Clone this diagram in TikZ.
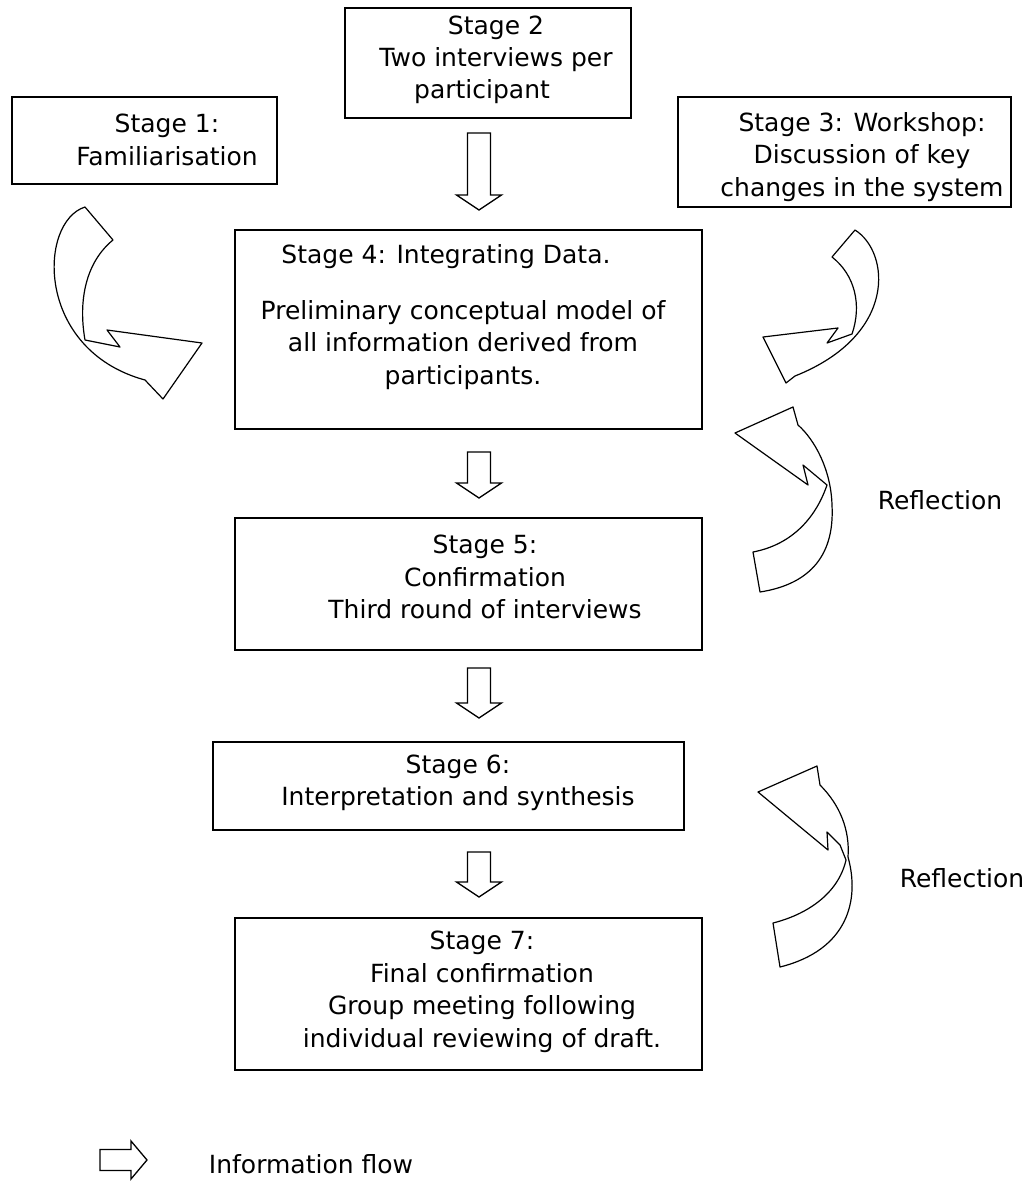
\documentclass[tikz,border=0pt]{standalone}
\usepackage{fontspec}
\setmainfont{DejaVu Sans}
\newcommand\flowdown[3]{\draw[blk] (#1-11.5,#2) -- (#1+11.5,#2) -- (#1+11.5,#3-15) -- (#1+22.5,#3-15) -- (#1,#3) -- (#1-22.5,#3-15) -- (#1-11.5,#3-15) -- cycle;}
\begin{document}
\begin{tikzpicture}[x=1pt,y=-1pt,
 box/.style={draw=black, line width=1.6pt, inner sep=0pt},
 txt/.style={align=center, inner sep=0pt, font=\fontsize{25}{32.5}\selectfont},
 blk/.style={draw=black, line width=1.3pt, line join=miter},
 curv/.style={draw=black, line width=1.2pt, line join=round}]
\useasboundingbox (0,0) rectangle (1031,1183);
% boxes
\node[box, minimum width=265pt, minimum height=87pt] (s1) at (144.5,140.5) {};
\node[box, minimum width=286pt, minimum height=110pt] (s2) at (488,63) {};
\node[box, minimum width=333pt, minimum height=110pt] (s3) at (844.5,152) {};
\node[box, minimum width=467pt, minimum height=199pt] (s4) at (468.5,329.5) {};
\node[box, minimum width=467pt, minimum height=132pt] (s5) at (468.5,584) {};
\node[box, minimum width=471pt, minimum height=88pt] (s6) at (448.5,786) {};
\node[box, minimum width=467pt, minimum height=152pt] (s7) at (468.5,994) {};
% texts
\node[txt] (t1) at (167,140) {Stage 1:\\Familiarisation};
\node[txt] (t2) at (496,44) {Stage 2\\Two interviews per};
\node[txt] (t2b) at (482,92) {participant};
\node[txt] (t3) at (862,157) {Stage 3: Workshop:\\Discussion of key\\changes in the system};
\node[txt] (t4a) at (446,257) {Stage 4: Integrating Data.};
\node[txt] (t4b) at (463,345) {Preliminary conceptual model of\\all information derived from\\participants.};
\node[txt] (t5) at (485,577) {Stage 5:\\Confirmation\\Third round of interviews};
\node[txt] (t6) at (458,783) {Stage 6:\\Interpretation and synthesis};
\node[txt] (t7) at (482,992) {Stage 7:\\Final confirmation\\Group meeting following\\individual reviewing of draft.};
\node[txt] (r1) at (940,500) {Reflection};
\node[txt] (r2) at (962,878) {Reflection};
\node[txt] (leg) at (311,1164) {Information flow};
% straight flow arrows
\flowdown{479}{133}{210}
\flowdown{479}{452}{498}
\flowdown{479}{668}{718}
\flowdown{479}{852}{897}
% legend arrow
\draw[blk] (100,1149.5) -- (131,1149.5) -- (131,1141) -- (147,1160) -- (131,1179) -- (131,1170.5) -- (100,1170.5) -- cycle;
% curved arrows
\draw[curv] (85,207) .. controls (38,222) and (35,350) .. (145,380) -- (163,399) -- (202,343) -- (107,330) -- (120,347) -- (85,340) .. controls (78,300) and (86,262) .. (113,240) -- cycle;
\draw[curv] (855,230) .. controls (890,252) and (898,335) .. (795,376) -- (786,383) -- (763,337) -- (838,328) -- (827,343) -- (852,334) .. controls (862,305) and (855,275) .. (832,257) -- cycle;
\draw[curv] (760,592) .. controls (805,585) and (835,560) .. (832,505) .. controls (831,470) and (815,440) .. (798,425) -- (793,407) -- (735,433) -- (808,485) -- (803,465) -- (827,485) .. controls (815,520) and (790,545) .. (753,552) -- cycle;
\draw[curv] (758,792) -- (817,766) -- (820,785) .. controls (840,805) and (850,830) .. (848,857) .. controls (860,900) and (848,950) .. (780,967) -- (773,923) .. controls (805,915) and (838,895) .. (846,860) -- (840,845) -- (827,832) -- (828,850) -- cycle;
\end{tikzpicture}
\end{document}
